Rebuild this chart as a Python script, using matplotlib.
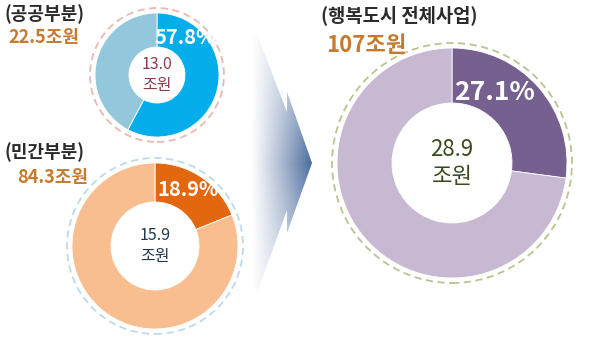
#!/usr/bin/env python3

import matplotlib.pyplot as plt
import numpy as np
from matplotlib.patches import Polygon, Circle

plt.rcParams['font.family'] = ['Noto Sans CJK KR', 'DejaVu Sans']

# Data: share of each project funded (%), totals and amounts (조원)
groups = ["(공공부분)", "(민간부분)", "(행복도시 전체사업)"]
totals = ["22.5조원", "84.3조원", "107조원"]
shares = [57.8, 18.9, 27.1]
amounts = [13.0, 15.9, 28.9]

dark_colors = ["#05aeea", "#e2670e", "#76608f"]
light_colors = ["#93c8dc", "#f8be90", "#c6b9d1"]
dash_colors = ["#eab9b1", "#bddaeb", "#bcc390"]
amount_colors = ["#8c3a4a", "#1f3b4d", "#3a4a1f"]

W, H = 592, 337
fig = plt.figure(figsize=(W / 100, H / 100), dpi=100)
ax = fig.add_axes([0, 0, 1, 1])


def py(y):
    # pixel row (from top) -> data y
    return H - y


# donut geometry: center x, center y (from top), outer radius, hole radius
layout = [
    (157, 75, 62, 28),
    (155, 246, 83, 44),
    (452, 163, 115, 60),
]

for i, (cx, cy, R, r) in enumerate(layout):
    ax.add_patch(Circle((cx, py(cy)), R + 5, fill=False, ec=dash_colors[i],
                        lw=1.3, ls=(0, (4, 2.5)), zorder=1))
    ax.pie([shares[i], 100 - shares[i]], center=(cx, py(cy)), radius=R,
           startangle=90, counterclock=False,
           colors=[dark_colors[i], light_colors[i]],
           wedgeprops=dict(width=R - r, edgecolor="white", linewidth=0.6))

# percentage labels
ax.text(185, py(37), f"{shares[0]}%", color="white", fontsize=14.5,
        fontweight="bold", ha="center", va="center")
ax.text(188, py(190), f"{shares[1]}%", color="white", fontsize=14.5,
        fontweight="bold", ha="center", va="center")
ax.text(495, py(92), f"{shares[2]}%", color="white", fontsize=19,
        fontweight="bold", ha="center", va="center")

# amounts in the holes
sizes = [11.5, 11.5, 16]
for i, (cx, cy, R, r) in enumerate(layout):
    ax.text(cx, py(cy), f"{amounts[i]}\n조원", color=amount_colors[i],
            fontsize=sizes[i], ha="center", va="center", linespacing=1.25)

# group titles and totals
ax.text(4, py(14), groups[0], fontsize=13, fontweight="bold",
        color="#2b2b2b", va="center")
ax.text(8, py(38), totals[0], fontsize=13, fontweight="bold",
        color="#c67a30", va="center")
ax.text(4, py(152), groups[1], fontsize=13, fontweight="bold",
        color="#2b2b2b", va="center")
ax.text(17, py(178), totals[1], fontsize=13, fontweight="bold",
        color="#c67a30", va="center")
ax.text(321, py(15), groups[2], fontsize=13.5, fontweight="bold",
        color="#2b2b2b", va="center")
ax.text(326, py(45), totals[2], fontsize=16, fontweight="bold",
        color="#c67a30", va="center")

# gradient chevron arrow
arrow_pts = [(240, 37), (258, 37), (287, 112), (287, 92), (312, 163),
             (287, 233), (287, 210), (258, 290), (240, 290)]
arrow = Polygon([(x, py(y)) for x, y in arrow_pts], closed=True,
                fc="none", ec="none")
ax.add_patch(arrow)
gx = np.linspace(0, 1, 200)
gy = np.linspace(0, 1, 200)
GX, GY = np.meshgrid(gx, gy)
alpha = np.clip((GX - 0.15) / 0.85, 0, 1) ** 1.1
alpha *= 1 - 0.55 * np.abs(GY - 0.5) * 2
rgba = np.zeros((200, 200, 4))
rgba[..., 0] = 0x4a / 255
rgba[..., 1] = 0x6a / 255
rgba[..., 2] = 0x9c / 255
rgba[..., 3] = alpha
im = ax.imshow(rgba, extent=(240, 312, py(290), py(37)), origin="upper",
               interpolation="bilinear", zorder=0.5)
im.set_clip_path(arrow)

ax.set_xlim(0, W)
ax.set_ylim(0, H)
ax.set_aspect("equal")
ax.axis("off")

fig.savefig("out.png", dpi=100)
